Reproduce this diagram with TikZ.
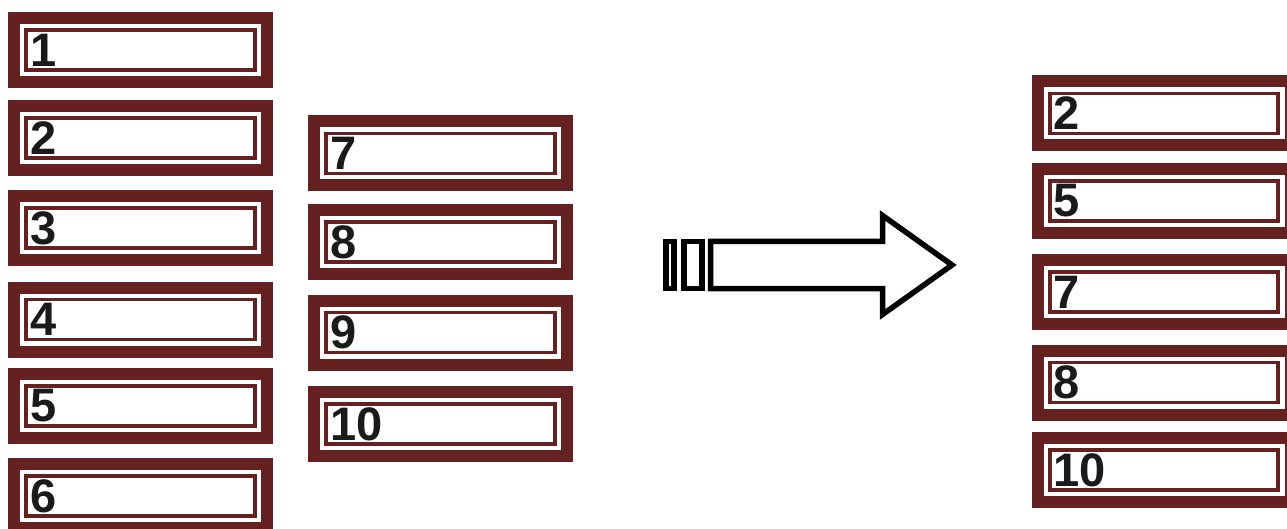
\documentclass[tikz,border=0pt]{standalone}
\usepackage{fontspec}
\setmainfont{Liberation Sans}
\definecolor{boxred}{RGB}{101,32,32}
\definecolor{digit}{RGB}{26,26,26}
\tikzset{
  framebox/.style={
    fill=boxred, draw=none, inner sep=0pt,
    minimum width=265pt, minimum height=76pt,
    text width=221pt, align=left, text=digit,
    font=\fontsize{47}{47}\selectfont\bfseries,
    path picture={
      \fill[white] ([shift={(12pt,-12pt)}]path picture bounding box.north west)
        rectangle ([shift={(-12pt,12pt)}]path picture bounding box.south east);
      \draw[boxred, line width=3.8pt]
        ([shift={(18.3pt,-18pt)}]path picture bounding box.north west)
        rectangle ([shift={(-18.3pt,18pt)}]path picture bounding box.south east);
    }
  },
  blockarrow/.style={draw=black, line width=5.5pt, fill=white, line join=miter}
}
\begin{document}
\begin{tikzpicture}[x=1pt, y=-1pt]
  \useasboundingbox (0,0) rectangle (1287,529);
  \clip (0,0) rectangle (1287,529);
  \fill[white] (0,0) rectangle (1287,529);

  % first column: 1 to 6
  \node[framebox] (a1) at (140.5,50)  {1};
  \node[framebox] (a2) at (140.5,138) {2};
  \node[framebox] (a3) at (140.5,228) {3};
  \node[framebox] (a4) at (140.5,319.5) {4};
  \node[framebox] (a5) at (140.5,406) {5};
  \node[framebox] (a6) at (140.5,496) {6};

  % second column: 7 to 10
  \node[framebox] (b7)  at (440.5,153.5) {7};
  \node[framebox] (b8)  at (440.5,242)   {8};
  \node[framebox] (b9)  at (440.5,332.5) {9};
  \node[framebox] (b10) at (440.5,424)   {10};

  % block arrow with two tail bars
  \draw[blockarrow] (666,241.5) rectangle (674,288.5);
  \draw[blockarrow] (684,241.5) rectangle (702,288.5);
  \draw[blockarrow] (710.5,241.5) -- (882.5,241.5) -- (882.5,215.5)
    -- (952,265) -- (882.5,314.5) -- (882.5,288.5) -- (710.5,288.5) -- cycle;

  % result column
  \node[framebox] (c2)  at (1164,113.5) {2};
  \node[framebox] (c5)  at (1164,201)   {5};
  \node[framebox] (c7)  at (1164,292)   {7};
  \node[framebox] (c8)  at (1164,382.5) {8};
  \node[framebox] (c10) at (1164,470)   {10};
\end{tikzpicture}
\end{document}
